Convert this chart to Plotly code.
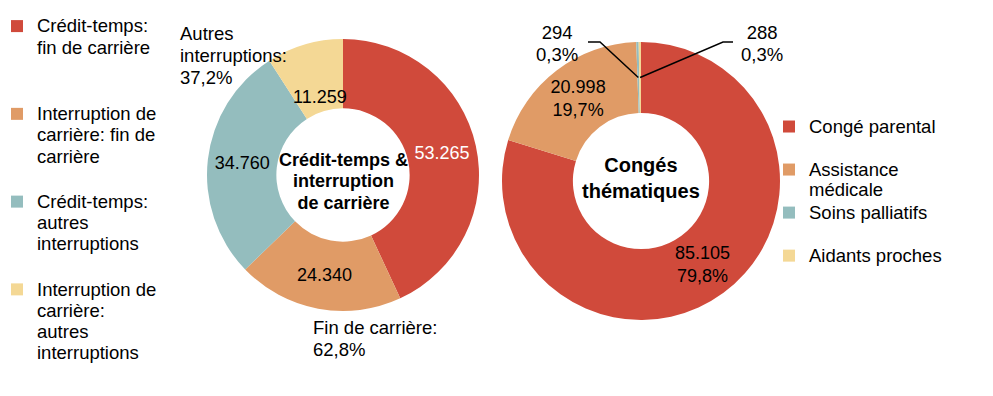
import math
import plotly.graph_objects as go

# ---------------- data ----------------
left_labels = ["Crédit-temps:<br>fin de carrière",
               "Interruption de<br>carrière: fin de<br>carrière",
               "Crédit-temps:<br>autres<br>interruptions",
               "Interruption de<br>carrière:<br>autres<br>interruptions"]
left_values = [53265, 24340, 34760, 11259]
left_title = "Crédit-temps &amp;<br>interruption<br>de carrière"

right_labels = ["Congé parental", "Assistance<br>médicale", "Soins palliatifs", "Aidants proches"]
right_values = [85105, 20998, 294, 288]
right_title = "Congés<br>thématiques"

colors = ["#D04A3B", "#E09B66", "#94BDBE", "#F4D895"]

W, H = 993, 396
FONT = "Liberation Sans, Arial, sans-serif"
TXT = 18.5  # displayed text size (px)


def px(x):
    return x / W


def py(y):
    return 1 - y / H


def big(s, size=TXT):
    return "<br>".join(f'<span style="font-size:{size}px">{p}</span>' if p.strip() else p
                       for p in s.split("<br>"))


def pad(lbls, n):
    out = []
    for l in lbls:
        k = l.count("<br>") + 1
        out.append(big(l) + "<br> " * max(0, n - k))
    return out


def fr(v):
    return f"{v:.1f}".replace(".", ",")


def dot(v):
    return f"{v:,}".replace(",", ".")


def slice_point(values, idx, dom, rfrac):
    """pixel position on the bisector of slice idx at rfrac of the radius"""
    tot = sum(values)
    a0 = sum(values[:idx]) / tot * 360
    a1 = sum(values[:idx + 1]) / tot * 360
    ang = math.radians((a0 + a1) / 2)
    cx = (dom["x"][0] + dom["x"][1]) / 2 * W
    cy = (1 - (dom["y"][0] + dom["y"][1]) / 2) * H
    R = min((dom["x"][1] - dom["x"][0]) * W, (dom["y"][1] - dom["y"][0]) * H) / 2
    return cx + rfrac * R * math.sin(ang), cy - rfrac * R * math.cos(ang)


L_DOM = dict(x=[px(207), px(479)], y=[py(311), py(39)])
R_DOM = dict(x=[px(502), px(780)], y=[py(320), py(42)])
HOLE = 0.49

fig = go.Figure()

fig.add_trace(go.Pie(
    labels=pad(left_labels, 4), values=left_values,
    sort=False, direction="clockwise", rotation=0, hole=HOLE,
    marker=dict(colors=colors, line=dict(width=0)),
    domain=L_DOM,
    texttemplate="%{value:,}", textposition=["inside", "inside", "inside", "none"],
    insidetextorientation="horizontal",
    insidetextfont=dict(family=FONT, size=18, color=["white", "black", "black", "black"]),
    legend="legend", hoverinfo="value",
))

fig.add_trace(go.Pie(
    labels=pad(right_labels, 2), values=right_values,
    sort=False, direction="clockwise", rotation=0, hole=HOLE,
    marker=dict(colors=colors, line=dict(width=0)),
    domain=R_DOM,
    texttemplate="%{value:,}<br>%{percent:.1%}",
    textposition=["inside", "inside", "none", "none"],
    insidetextorientation="horizontal",
    insidetextfont=dict(family=FONT, size=18, color="black"),
    legend="legend2", hoverinfo="value",
))

# --------- group totals (left chart) ---------
tot_l = sum(left_values)
fin_pct = (left_values[0] + left_values[1]) / tot_l * 100
autres_pct = (left_values[2] + left_values[3]) / tot_l * 100

yx, yy = slice_point(left_values, 3, L_DOM, 0.6)

annotations = [
    dict(x=px(178), y=py(21), xref="paper", yref="paper", xanchor="left", yanchor="top",
         align="left", showarrow=False,
         text=big(f"Autres<br>interruptions:<br>{fr(autres_pct)}%"),
         font=dict(family=FONT, size=17, color="black")),
    dict(x=px(311), y=py(315), xref="paper", yref="paper", xanchor="left", yanchor="top",
         align="left", showarrow=False,
         text=big(f"Fin de carrière:<br>{fr(fin_pct)}%"),
         font=dict(family=FONT, size=17, color="black")),
    # small yellow slice value (left chart)
    dict(x=px(yx), y=py(yy), xref="paper", yref="paper", xanchor="center", yanchor="middle",
         showarrow=False, text=dot(left_values[3]),
         font=dict(family=FONT, size=18, color="black")),
    # centre titles
    dict(x=sum(L_DOM["x"]) / 2, y=sum(L_DOM["y"]) / 2, xref="paper", yref="paper",
         xanchor="center", yanchor="middle", align="center", showarrow=False, yshift=-6,
         text="<b>" + big(left_title, 18) + "</b>",
         font=dict(family=FONT, size=16.5, color="black")),
    dict(x=sum(R_DOM["x"]) / 2, y=sum(R_DOM["y"]) / 2, xref="paper", yref="paper",
         xanchor="center", yanchor="middle", align="center", showarrow=False, yshift=3,
         text="<b>" + right_title + "</b>",
         font=dict(family=FONT, size=20, color="black")),
]

# --------- outside labels for tiny slices (right chart) ---------
tot_r = sum(right_values)
shapes = []
label_pos = {2: (557, 588, 600), 3: (762, 733, 723)}
for i, (lx, lstart, lbend) in label_pos.items():
    v = right_values[i]
    tx, ty = slice_point(right_values, i, R_DOM, (1 + HOLE) / 2)
    annotations.append(dict(
        x=px(lx), y=py(20), xref="paper", yref="paper",
        xanchor="center", yanchor="top", align="center", showarrow=False,
        text=big(dot(v) + "<br>" + fr(v / tot_r * 100) + "%"),
        font=dict(family=FONT, size=17, color="black")))
    shapes.append(dict(
        type="path", xref="paper", yref="paper",
        path=f"M{px(lstart)},{py(42)} L{px(lbend)},{py(42)} L{px(tx)},{py(ty)}",
        line=dict(color="black", width=1.5)))

fig.update_layout(
    width=W, height=H,
    margin=dict(l=0, r=0, t=0, b=0, autoexpand=False),
    paper_bgcolor="white", plot_bgcolor="white",
    separators=",.",
    font=dict(family=FONT, color="black"),
    annotations=annotations,
    shapes=shapes,
    legend=dict(x=px(-3), y=py(9), xanchor="left", yanchor="top",
                font=dict(family=FONT, size=16.3, color="black"),
                valign="top", bgcolor="rgba(0,0,0,0)", traceorder="normal"),
    legend2=dict(x=px(769), y=py(110), xanchor="left", yanchor="top",
                 font=dict(family=FONT, size=15.4, color="black"),
                 valign="top", bgcolor="rgba(0,0,0,0)", traceorder="normal"),
)

fig.write_html("out.html", config={"displayModeBar": False},
               post_script="document.body.style.margin='0';")
